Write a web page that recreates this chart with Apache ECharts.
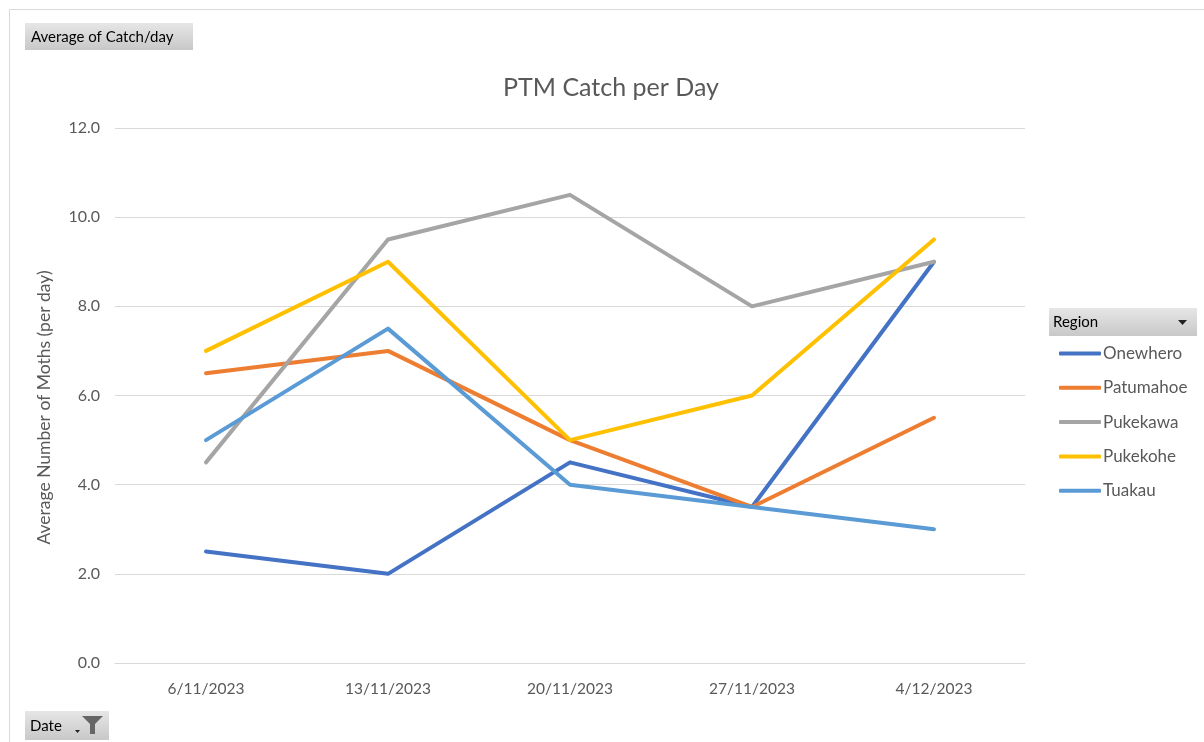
<!DOCTYPE html>
<html><head><meta charset="utf-8">
<script src="https://cdn.jsdelivr.net/npm/echarts@6/dist/echarts.min.js"></script>
<style>html,body{margin:0;padding:0;background:#fff}#c{width:1204px;height:742px}</style>
</head><body><div id="c"></div>
<script>
const categories = ['6/11/2023','13/11/2023','20/11/2023','27/11/2023','4/12/2023'];
const seriesNames = ['Onewhero','Patumahoe','Pukekawa','Pukekohe','Tuakau'];
const onewhero  = [2.5, 2.0, 4.5, 3.5, 9.0];
const patumahoe = [6.5, 7.0, 5.0, 3.5, 5.5];
const pukekawa  = [4.5, 9.5, 10.5, 8.0, 9.0];
const pukekohe  = [7.0, 9.0, 5.0, 6.0, 9.5];
const tuakau    = [5.0, 7.5, 4.0, 3.5, 3.0];
const colors = ['#4472C4','#ED7D31','#A5A5A5','#FFC000','#5B9BD5'];
const values = [onewhero, patumahoe, pukekawa, pukekohe, tuakau];
const FONT = 'Lato, "Open Sans", sans-serif';

const chart = echarts.init(document.getElementById('c'), null, {renderer:'canvas'});
const btnFill = new echarts.graphic.LinearGradient(0,0,0,1,[{offset:0,color:'#e6e6e6'},{offset:1,color:'#c8c8c8'}]);
chart.setOption({
  backgroundColor:'#fff',
  animation:false,
  color: colors,
  title:{text:'PTM Catch per Day', left:606, top:70, textAlign:'center',
    textStyle:{fontFamily:FONT, fontSize:25, fontWeight:'normal', color:'#595959'}},
  grid:{left:115, right:179, top:128, bottom:79, containLabel:false},
  legend:{orient:'vertical', left:1054, top:340, itemWidth:42, itemHeight:4, itemGap:17.3,
    icon:'roundRect', data:seriesNames,
    textStyle:{fontFamily:FONT, fontSize:17, color:'#595959', padding:[0,0,0,-3]}},
  xAxis:{type:'category', data:categories, boundaryGap:true,
    axisLine:{lineStyle:{color:'#d9d9d9', width:1}}, axisTick:{show:false},
    axisLabel:{fontFamily:FONT, fontSize:15.5, color:'#595959', margin:18}},
  yAxis:{type:'value', min:0, max:12, interval:2,
    name:'Average Number of Moths (per day)', nameLocation:'middle', nameGap:62,
    nameTextStyle:{fontFamily:FONT, fontSize:17.5, color:'#595959', padding:[0,24,0,0]},
    axisLine:{show:false}, axisTick:{show:false},
    splitLine:{lineStyle:{color:'#d9d9d9', width:1}},
    axisLabel:{fontFamily:FONT, fontSize:16, color:'#595959', margin:15,
      formatter:v=>v.toFixed(1)}},
  series: seriesNames.map((n,i)=>({name:n, type:'line', data:values[i], showSymbol:false,
    symbol:'none', lineStyle:{width:4, color:colors[i], cap:'round', join:'round'}, itemStyle:{color:colors[i]}})),
  graphic:[
    {type:'rect', shape:{x:9.5,y:9.5,width:1300,height:800}, style:{fill:'none', stroke:'#d9d9d9', lineWidth:1}, silent:true, z:-1},
    {type:'rect', shape:{x:25,y:23,width:168,height:27}, style:{fill:btnFill}},
    {type:'text', x:31, y:37, style:{text:'Average of Catch/day', fontFamily:FONT, fontSize:15, fill:'#000', verticalAlign:'middle'}},
    {type:'rect', shape:{x:25,y:711,width:84,height:29}, style:{fill:btnFill}},
    {type:'text', x:30, y:726, style:{text:'Date', fontFamily:FONT, fontSize:15, fill:'#000', verticalAlign:'middle'}},
    {type:'polygon', shape:{points:[[75,730],[80,730],[77.5,733]]}, style:{fill:'#222'}},
    {type:'polygon', shape:{points:[[82,716],[103,716],[95,724],[95,734],[90,734],[90,724]]}, style:{fill:'#666'}},
    {type:'rect', shape:{x:1049,y:308,width:148,height:28}, style:{fill:btnFill}},
    {type:'text', x:1053, y:322, style:{text:'Region', fontFamily:FONT, fontSize:15, fill:'#000', verticalAlign:'middle'}},
    {type:'polygon', shape:{points:[[1178,320],[1187,320],[1182.5,325]]}, style:{fill:'#222'}}
  ]
});
</script></body></html>
